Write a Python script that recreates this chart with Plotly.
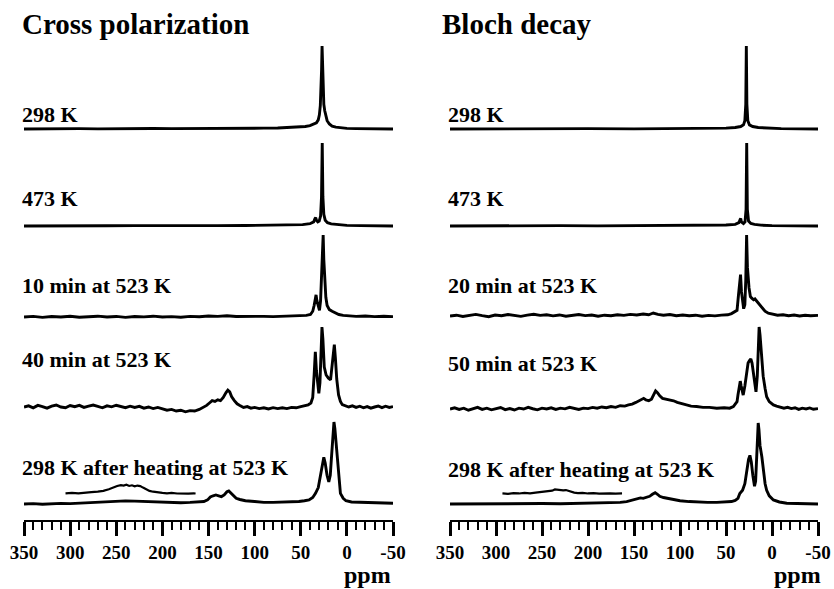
import plotly.graph_objects as go

# ---------------- data (ppm, intensity; tallest peak of each trace = 100) ----------------
tick_vals = [350, 300, 250, 200, 150, 100, 50, 0, -50]
tick_text = ["350", "300", "250", "200", "150", "100", "50", "0", "-50"]

left_title = "Cross polarization"
right_title = "Bloch decay"
left_labels = ["298 K", "473 K", "10 min at 523 K", "40 min at 523 K", "298 K after heating at 523 K"]
right_labels = ["298 K", "473 K", "20 min at 523 K", "50 min at 523 K", "298 K after heating at 523 K"]

cp298_ppm = [350, 330, 310, 290, 270, 250, 230, 210, 190, 170, 150, 130, 110, 90, 75, 62, 52, 45, 40, 36, 33, 31, 29.8, 28.8, 28, 27.4, 26.9, 26.4, 25.8, 25, 24, 22.8, 21.4, 19, 16, 12, 6, 0, -10, -25, -50]
cp298_int = [0, 0.3, 0, 0.4, 0.2, 0.5, 0.3, 0.6, 0.4, 0.7, 0.6, 0.9, 0.8, 1.0, 1.2, 1.6, 2.2, 3, 4, 5.5, 7.5, 11, 17, 28, 45, 72, 100, 72, 45, 30, 22, 15, 10, 6, 3.5, 2.2, 1.3, 0.8, 0.5, 0.3, 0]

cp473_ppm = [350, 320, 290, 260, 230, 200, 170, 140, 110, 80, 60, 48, 40, 36, 34.5, 33.8, 33, 31.5, 30, 28.5, 27.5, 26.7, 26, 25, 23.5, 21, 17, 10, 0, -15, -50]
cp473_int = [0, 0.4, 0, 0.3, 0.5, 0.2, 0.5, 0.4, 0.6, 0.8, 1, 1.6, 2.8, 5, 9, 10, 7, 5, 6, 12, 35, 100, 35, 14, 7, 4, 2.5, 1.5, 0.8, 0.4, 0]

cp10_ppm = [350, 340, 330, 320, 310, 300, 290, 280, 270, 260, 250, 240, 230, 220, 210, 200, 190, 180, 170, 160, 150, 140, 130, 120, 110, 100, 90, 80, 70, 60, 50, 44, 39.5, 37, 35.5, 34.2, 33.4, 32.5, 31, 29.7, 28.5, 27.5, 26.5, 25.7, 25, 24, 22.8, 21.4, 19, 16, 12, 8.7, 4, -2, -10, -20, -30, -40, -50]
cp10_int = [0, 0.8, -0.5, 0.6, 0, 0.9, -0.3, 0.5, 1, 0, 0.7, -0.4, 0.6, 0.2, 1, 0, 0.5, -0.3, 0.8, 0.3, 1.2, 0.8, 1.5, 0.6, 0.9, 0.3, 0.8, 0.5, 1, 0.8, 1.5, 2, 3, 7, 14, 22, 27, 20, 12, 8, 20, 48, 85, 100, 70, 44, 24, 14, 9, 7, 4.5, 3, 2, 1.5, 0.8, 1.2, 0.5, 0.9, 0.4]

cp40_ppm = [350, 345, 340, 335, 330, 325, 320, 315, 310, 305, 300, 295, 290, 285, 280, 275, 270, 265, 260, 255, 250, 245, 240, 235, 230, 225, 220, 215, 210, 205, 200, 195, 190, 185, 180, 175, 170, 165, 160, 156, 152, 149, 146, 143, 140, 137, 134, 131, 129, 127, 125, 122, 119, 116, 112, 108, 104, 100, 95, 90, 85, 80, 75, 70, 65, 60, 55, 50, 46, 42, 39, 37, 35.5, 34.2, 33, 31.5, 30.4, 29.2, 28, 27, 26, 24.5, 22.5, 20, 17.7, 16, 14.5, 13.6, 12.5, 11, 9, 7, 5, 2, -2, -6, -10, -14, -18, -22, -26, -30, -34, -38, -42, -46, -50]
cp40_int = [0, 1.5, -1, 2, 0.5, -1.5, 1, 2.5, 0, -1, 1.8, 0.3, 2, -0.5, 1, 2.5, 0.8, -1, 1.5, 0.2, 2.2, 0.5, -0.8, 1, -0.5, 0.8, -1.5, 0, -2, -0.5, -2.5, -4, -3, -5, -4, -6, -4.5, -5, -3, -1, 2, 5, 8, 7, 9, 8, 12, 18, 21, 19, 13, 8, 4, 2, -0.5, 0.5, -1.5, -0.5, -2, -1, -2.5, -0.8, -2, -1, -2, -0.5, -1, 0.5, 1.5, 2.5, 5, 12, 40, 69, 45, 22, 17, 30, 70, 100, 85, 50, 40, 36, 34, 55, 76, 78, 62, 35, 15, 7, 3, 1.5, 0, 1.5, -0.5, 1, -1, 0.5, -1.5, 0, 1.2, -0.8, 1, -0.5, 0.5]

cpaft_ppm = [350, 340, 330, 320, 310, 300, 290, 280, 270, 260, 250, 240, 230, 220, 210, 200, 190, 180, 170, 160, 155, 151, 148, 145, 142, 139, 136, 133, 130, 128, 126, 123, 120, 116, 110, 100, 90, 80, 70, 60, 52, 46, 41, 37, 34, 31, 28.5, 26.5, 25, 23.5, 21.5, 19.6, 18, 16.5, 15, 14, 13, 11, 9, 7, 4, 1, -5, -15, -30, -50]
cpaft_int = [0, 0.5, -0.3, 0.4, 0.8, 0.5, 1, 1.5, 2.5, 3, 3.5, 3.8, 3.5, 3.2, 2.5, 1.8, 1.5, 1.6, 2, 2.5, 3, 5, 8.5, 10, 11, 10, 9, 11, 15, 16, 14, 10, 7, 5.5, 4, 3, 2, 2, 2.2, 2.5, 3, 4, 5, 8, 13, 20, 37, 52, 57, 50, 35, 27, 35, 60, 90, 100, 92, 62, 35, 13, 7, 4, 2.5, 2, 1.5, 1]

cpins_ppm = [305, 298, 291, 284, 277, 270, 264, 258, 253, 249, 245, 242, 239, 236, 233, 230, 227, 224, 221, 218, 214, 210, 205, 200, 195, 190, 184, 178, 172, 166, 164]
cpins_int = [13, 13.5, 13, 14, 14.5, 15, 16, 18, 20.5, 22, 23, 22.5, 23.5, 22, 22.8, 21.5, 22.5, 21.8, 20, 18, 16, 15, 14, 13.5, 13, 13.5, 12.8, 13.2, 12.7, 13, 12.8]

bd298_ppm = [350, 300, 250, 200, 150, 100, 70, 50, 40, 34, 31, 29.5, 28.5, 27.9, 27.3, 26.3, 24.5, 21, 15, 5, -10, -30, -50]
bd298_int = [0, 0.3, 0, 0.4, 0.2, 0.5, 0.6, 1, 1.8, 3, 5, 10, 30, 100, 30, 10, 5, 3, 1.8, 1, 0.5, 0.2, 0]

bd473_ppm = [350, 310, 270, 230, 190, 150, 120, 90, 65, 50, 40, 36, 34.6, 34, 33.3, 31, 29.3, 28.2, 27.5, 26.8, 25.5, 23, 19, 12, 0, -20, -50]
bd473_int = [0, 0.3, 0, 0.4, 0.2, 0.5, 0.3, 0.6, 0.8, 1.2, 2, 4, 8, 9, 5, 3, 5, 20, 100, 20, 6, 3, 2, 1, 0.5, 0.2, 0]

bd20_ppm = [350, 343, 336, 329, 322, 315, 308, 301, 294, 287, 280, 273, 266, 259, 252, 245, 238, 231, 224, 217, 210, 203, 196, 189, 182, 175, 168, 161, 154, 147, 140, 134, 129, 124, 118, 111, 104, 97, 90, 83, 76, 69, 62, 55, 48, 44, 40, 38, 36.5, 35, 34.2, 33.2, 32, 30.8, 29.5, 28.5, 27.6, 26.7, 25, 23.5, 22, 20, 18.5, 16.5, 13, 10, 7.6, 4, -1.5, -6, -12, -18, -24, -30, -36, -42, -50]
bd20_int = [0, 1, -0.5, 0.8, 2, 0.5, -0.8, 1.2, 0.3, 1.8, 0.6, -0.4, 1, 2.2, 0.8, 1.5, 0.2, 1.3, -0.3, 0.9, 1.8, 0.5, 1.2, -0.2, 1, 0.4, 1.6, 0.8, 2, 1.2, 2.5, 1.5, 3.7, 2, 1, 1.8, 0.4, 1.2, 0.3, 1, -0.3, 0.8, 0.2, 1.1, 1.5, 3, 5, 7, 25, 45, 51, 30, 16, 9, 14, 45, 100, 60, 35, 24, 22, 20, 21, 18, 14, 9, 6, 3.5, 2, 1, 1.6, 0.4, 1.2, 0, 0.9, 0.3, 0.8]

bd50_ppm = [350, 345, 340, 335, 330, 325, 320, 315, 310, 305, 300, 295, 290, 285, 280, 275, 270, 265, 260, 255, 250, 245, 240, 235, 230, 225, 220, 215, 210, 205, 200, 195, 190, 185, 180, 175, 170, 165, 160, 156, 152, 148, 145, 142, 139.5, 137, 134, 131, 128.5, 126.5, 124.5, 122, 119, 115, 111, 107, 103, 98, 93, 88, 82, 75, 68, 60, 52, 46, 42, 40, 38, 37, 35.5, 34.5, 33.5, 32.2, 31.3, 29.5, 27.5, 26, 24.5, 23, 21.7, 20.4, 19, 17.4, 16, 15, 14, 13, 11.5, 9.6, 7.5, 5.8, 3, -1.5, -5, -9, -13, -17, -21, -25, -29, -33, -37, -41, -45, -50]
bd50_int = [0, 1.5, -0.5, 1, -1.5, 0.5, 2, -0.5, 1, -1, 0.5, 1.8, -0.8, 0.5, -1.2, 1, 0, 2, 0.3, -1, 1, 0, 1.5, -0.5, 1, 0.2, 2, 0.5, -0.5, 1, 0.5, 2, 1, 2.5, 1.5, 3, 2, 4, 3.5, 5, 6, 8, 10, 11, 13, 11, 10, 12, 18, 22, 20, 16, 13, 12, 11, 10, 8, 6.5, 4.5, 3.5, 3, 2, 2, 1, 1.5, 1, 3, 5.5, 9, 17, 30, 34, 28, 19, 17, 28, 45, 56, 59, 61, 56, 44, 30, 21, 40, 75, 100, 90, 62, 40, 25, 15, 9, 5, 3.5, 2, 1, 2, 0.5, 1.5, -0.5, 1, 0, 1.3, -0.3, 0.5]

bdaft_ppm = [350, 330, 310, 290, 270, 250, 230, 210, 190, 175, 165, 158, 152, 147, 143, 140, 136, 133, 130, 127, 124.5, 122, 118, 112, 107, 100, 90, 80, 70, 60, 50, 44, 40, 37, 35, 32, 29.5, 27.5, 25.5, 24, 22.5, 20.8, 19, 17.8, 16.5, 15.5, 15, 14.2, 13, 11, 9, 7.5, 5.8, 3, -1.5, -8, -16, -30, -50]
bdaft_int = [0, 0.3, 0, 0.5, 0.3, 0.6, 0.4, 0.7, 0.8, 1.2, 2, 3, 5, 7, 7.5, 7, 8, 9.5, 12, 14, 12, 9.5, 8, 6.5, 5, 4, 3, 2.3, 2, 2, 2.2, 3, 4.5, 7, 13, 17, 25, 42, 55, 60, 52, 35, 22, 28, 60, 92, 100, 92, 72, 58, 38, 25, 17, 10, 5, 2.5, 1, 0.5, 0]

bdins_ppm = [293, 287, 281, 275, 269, 263, 257, 252, 248, 245, 242, 239, 236, 233, 230, 227, 224, 221, 218, 215, 211, 206, 200, 194, 188, 182, 176, 170, 165, 163]
bdins_int = [13, 12.5, 13.5, 13, 13.8, 13.2, 14, 14.5, 15.5, 16, 15.5, 16.5, 18, 17.5, 16.5, 16.8, 17.2, 16, 14.5, 14, 13.5, 13.8, 13, 13.5, 12.8, 13.3, 13, 12.7, 13.2, 13]

# ---------------- layout geometry (reference pixel coordinates) ----------------
W, H = 834, 589
LEFT_X = (24, 393)
RIGHT_X = (450, 818)
AXIS_Y = 521
LEFT_ROWS = [(129, 46), (226, 143), (317, 235), (407, 327), (504, 422)]
RIGHT_ROWS = [(129, 46), (226, 143), (316, 235), (409, 327), (504, 423)]
LEFT_LABEL_Y = [115, 199, 286, 359, 468]
RIGHT_LABEL_Y = [115, 199, 286, 363, 469]
LO, HI = -12, 104
FONT = "Liberation Serif, Times New Roman, serif"
LW = 2.9


def px(x):
    return x / W


def py(y):
    return 1 - y / H


def ydomain(base_px, top_px):
    s = (base_px - top_px) / 100.0
    bot = base_px - LO * s
    top = top_px - (HI - 100) * s
    return [py(bot), py(top)]


left_spectra = [(cp298_ppm, cp298_int), (cp473_ppm, cp473_int), (cp10_ppm, cp10_int),
                (cp40_ppm, cp40_int), (cpaft_ppm, cpaft_int)]
right_spectra = [(bd298_ppm, bd298_int), (bd473_ppm, bd473_int), (bd20_ppm, bd20_int),
                 (bd50_ppm, bd50_int), (bdaft_ppm, bdaft_int)]

fig = go.Figure()
layout = dict(width=W, height=H, margin=dict(l=0, r=0, t=0, b=0, autoexpand=False),
              paper_bgcolor="white", plot_bgcolor="rgba(0,0,0,0)", showlegend=False)

xcommon = dict(range=[350, -50], tickmode="array", tickvals=tick_vals, ticktext=tick_text,
               ticks="outside", ticklen=14, tickwidth=2.5, tickcolor="black",
               showline=True, linewidth=2, linecolor="black", showgrid=False, zeroline=False,
               tickfont=dict(family=FONT, size=19, color="black", weight="bold"),
               ticklabelstandoff=0, automargin=False,
               minor=dict(dtick=10, tick0=0, ticks="outside", ticklen=8, tickwidth=2, tickcolor="black", showgrid=False),
               anchor="free", position=py(AXIS_Y), fixedrange=True)
layout["xaxis"] = dict(domain=[px(LEFT_X[0]), px(LEFT_X[1])], **xcommon)
layout["xaxis2"] = dict(domain=[px(RIGHT_X[0]), px(RIGHT_X[1])], **xcommon)

for i, ((pp, pi), (base, top)) in enumerate(zip(left_spectra, LEFT_ROWS)):
    k = i + 1
    yname = "y" if k == 1 else f"y{k}"
    layout["yaxis" if k == 1 else f"yaxis{k}"] = dict(domain=ydomain(base, top), range=[LO, HI],
                                                       visible=False, anchor="x", fixedrange=True,
                                                       automargin=False)
    fig.add_trace(go.Scatter(x=pp, y=pi, mode="lines", xaxis="x", yaxis=yname,
                             line=dict(color="black", width=LW)))
fig.add_trace(go.Scatter(x=cpins_ppm, y=cpins_int, mode="lines", xaxis="x", yaxis="y5",
                         line=dict(color="black", width=2.2)))

for i, ((pp, pi), (base, top)) in enumerate(zip(right_spectra, RIGHT_ROWS)):
    k = i + 6
    layout[f"yaxis{k}"] = dict(domain=ydomain(base, top), range=[LO, HI],
                               visible=False, anchor="x2", fixedrange=True, automargin=False)
    fig.add_trace(go.Scatter(x=pp, y=pi, mode="lines", xaxis="x2", yaxis=f"y{k}",
                             line=dict(color="black", width=LW)))
fig.add_trace(go.Scatter(x=bdins_ppm, y=bdins_int, mode="lines", xaxis="x2", yaxis="y10",
                         line=dict(color="black", width=2.2)))

ann = []
for t, xl in ((left_title, 20), (right_title, 440)):
    ann.append(dict(text=t, x=px(xl), y=py(24), xref="paper", yref="paper",
                    xanchor="left", yanchor="middle", showarrow=False,
                    font=dict(family=FONT, size=29, color="black", weight="bold")))
for lab, ly in zip(left_labels, LEFT_LABEL_Y):
    ann.append(dict(text=lab, x=px(20), y=py(ly), xref="paper", yref="paper",
                    xanchor="left", yanchor="middle", showarrow=False,
                    font=dict(family=FONT, size=22, color="black", weight="bold")))
for lab, ly in zip(right_labels, RIGHT_LABEL_Y):
    ann.append(dict(text=lab, x=px(446), y=py(ly), xref="paper", yref="paper",
                    xanchor="left", yanchor="middle", showarrow=False,
                    font=dict(family=FONT, size=22, color="black", weight="bold")))
for xr in (393, 823):
    ann.append(dict(text="ppm", x=px(xr), y=py(575), xref="paper", yref="paper",
                    xanchor="right", yanchor="middle", showarrow=False,
                    font=dict(family=FONT, size=24, color="black", weight="bold")))
layout["annotations"] = ann
fig.update_layout(**layout)
fig.write_html("out.html", config={"displayModeBar": False},
               post_script="document.body.style.margin='0';document.body.style.overflow='hidden';")
